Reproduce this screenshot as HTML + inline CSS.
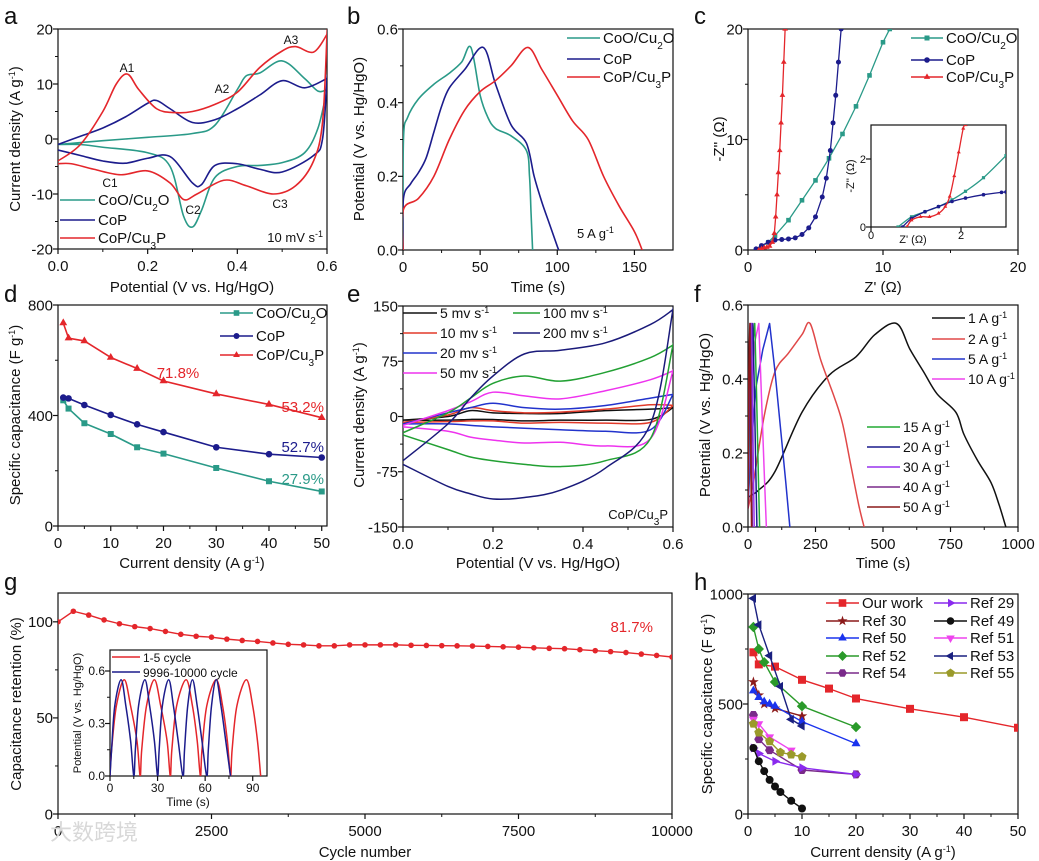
<!DOCTYPE html>
<html><head><meta charset="utf-8"><style>
html,body{margin:0;padding:0;background:#fff}
svg{display:block;font-family:"Liberation Sans","Noto Sans CJK SC",sans-serif}
</style></head><body>
<svg id="fig" width="1039" height="861" viewBox="0 0 1039 861" xmlns="http://www.w3.org/2000/svg"></svg>
<script>
// ---------- data ----------
// panel a (CV @10 mV/s)
const aRedFx=[0,0.05,0.1,0.13,0.155,0.18,0.22,0.26,0.3,0.35,0.4,0.45,0.5,0.53,0.57,0.6];
const aRedFy=[-4,-1,5,10,11.8,9,5.5,4.8,5,6.3,8.5,13,16,16.8,15.8,19];
const aRedRx=[0.6,0.59,0.57,0.53,0.48,0.42,0.37,0.31,0.28,0.25,0.2,0.14,0.08,0.03,0];
const aRedRy=[19,3,-4,-8.5,-10,-8.5,-7.5,-10,-11,-8,-5.8,-6.5,-5.5,-4.5,-4.5];
const aBluFx=[0,0.05,0.1,0.15,0.2,0.22,0.25,0.3,0.35,0.4,0.45,0.5,0.55,0.6];
const aBluFy=[-1,0.5,2,4,6.5,7,5.5,3,3.5,5.5,8,10.6,9.3,11];
const aBluRx=[0.6,0.59,0.57,0.5,0.45,0.4,0.35,0.32,0.3,0.25,0.2,0.15,0.1,0.05,0];
const aBluRy=[11,0,-3,-6,-5.5,-4.5,-4.8,-8.3,-8,-3.2,-3.5,-4.4,-4,-3,-2];
const aTeaFx=[0,0.1,0.2,0.3,0.35,0.4,0.42,0.45,0.5,0.55,0.58,0.6];
const aTeaFy=[-1,-0.3,0.3,1,2.5,9,11.5,12,14.2,11,8.7,9];
const aTeaRx=[0.6,0.58,0.55,0.5,0.45,0.4,0.35,0.32,0.3,0.28,0.25,0.2,0.1,0.05,0];
const aTeaRy=[9,2,-2.5,-4.3,-4.8,-5,-7,-13,-16,-14,-5,-2.5,-1.5,-1,-1];
// panel b (GCD @5 A/g)
const bRedT=[0,0.3,10,20,30,40,50,60,70,81,90,100,110,120,130,140,150,155];
const bRedV=[0,0.11,0.14,0.2,0.3,0.38,0.43,0.46,0.5,0.55,0.49,0.42,0.35,0.3,0.2,0.12,0.05,0];
const bBluT=[0,0.3,5,10,15,20,25,30,40,52,60,70,80,85,90,95,100,101];
const bBluV=[0,0.14,0.18,0.21,0.25,0.32,0.39,0.44,0.49,0.55,0.45,0.34,0.29,0.2,0.13,0.07,0.01,0];
const bTeaT=[0,0.3,3,10,20,30,38,44,50,55,60,70,80,82,83,84];
const bTeaV=[0,0.3,0.36,0.41,0.45,0.48,0.51,0.55,0.42,0.36,0.33,0.31,0.27,0.2,0.1,0];
// panel c (Nyquist)
const cRedX=[0.8,1.0,1.2,1.4,1.6,1.8,1.95,2.05,2.15,2.25,2.35,2.45,2.55,2.65,2.75];
const cRedY=[0,0.1,0.2,0.25,0.35,0.7,1.5,3,5,7,9,11.5,14,17,20];
const cBluX=[0.6,1,1.5,2,2.5,3,3.5,4,4.5,5,5.5,5.8,6.1,6.3,6.5,6.7,6.9];
const cBluY=[0.1,0.4,0.7,0.9,0.95,1,1.1,1.4,2,3,4.8,6.5,9,11.5,14,17,20];
const cTeaX=[0.6,1,1.5,2,3,4,5,6,7,8,9,10,10.5];
const cTeaY=[0,0.3,0.7,1.3,2.7,4.5,6.3,8.3,10.5,13,15.8,18.8,20];
const ciRedX=[0.8,0.9,1.1,1.3,1.5,1.65,1.75,1.85,1.95,2.05,2.1];
const ciRedY=[0,0.2,0.3,0.3,0.4,0.6,0.9,1.5,2.2,2.9,3];
const ciBluX=[0.7,0.9,1.2,1.5,1.8,2.1,2.5,2.9,3];
const ciBluY=[0,0.25,0.45,0.6,0.75,0.85,0.95,1.02,1.03];
const ciTeaX=[0.6,0.9,1.2,1.5,1.8,2.1,2.5,3];
const ciTeaY=[0,0.3,0.45,0.6,0.8,1.05,1.45,2.1];
// panel d
const dCur=[1,2,5,10,15,20,30,40,50];
const dRed=[735,680,670,610,570,525,478,440,392];
const dBlu=[465,462,438,402,368,340,285,260,248];
const dTea=[455,425,372,333,285,262,210,162,125];
// panel e (CV at scan rates)
const eV=[0,0.1,0.15,0.2,0.27,0.35,0.45,0.55,0.6];
const e5F=[-5,0,8,5,4,4,8,10,12],   e5R=[-5,-5,-4,-4,-6,-5,-5,-4,12];
const e10F=[-8,2,12,8,5,6,10,16,15], e10R=[-8,-7,-6,-6,-9,-8,-9,-8,15];
const e20F=[-10,5,12,18,12,10,15,25,30], e20R=[-10,-10,-12,-14,-16,-18,-20,-18,30];
const e50F=[-12,8,20,33,28,24,35,50,62], e50R=[-14,-20,-28,-32,-36,-35,-40,-30,62];
const e100F=[-22,5,25,45,55,48,60,80,97], e100R=[-25,-45,-55,-60,-65,-68,-60,-30,97];
const e200F=[-60,-10,25,55,85,90,100,125,145], e200R=[-65,-95,-105,-112,-110,-100,-70,-10,145];
// panel f (GCD at rates)
const f1T=[0,40,100,200,300,400,470,550,600,650,700,770,800,850,900,930,955];
const f1V=[0.08,0.1,0.15,0.31,0.41,0.46,0.52,0.55,0.48,0.42,0.36,0.31,0.25,0.18,0.12,0.06,0];
const f2T=[0,20,60,100,150,200,230,270,320,350,380,410,430];
const f2V=[0.05,0.12,0.3,0.42,0.47,0.52,0.55,0.45,0.35,0.28,0.17,0.06,0];
const f5T=[0,10,30,55,80,100,120,140,155];
const f5V=[0.05,0.2,0.38,0.48,0.55,0.42,0.27,0.12,0];
const f10T=[0,10,25,40,50,60,68];
const f10V=[0.05,0.3,0.45,0.55,0.4,0.2,0];
const f15T=[0,8,18,25,32,38,43];
const f20T=[0,6,13,18,24,29,33];
const f30T=[0,4,9,13,17,20,23];
const f40T=[0,3,6,9,12,14,16];
const f50T=[0,2,5,7,9,11,13];
const fFastV=[0.05,0.35,0.5,0.55,0.35,0.15,0];
// panel g
const gCycles=[0,250,500,750,1000,1250,1500,1750,2000,2250,2500,2750,3000,3250,3500,3750,4000,4250,4500,4750,5000,5250,5500,5750,6000,6250,6500,6750,7000,7250,7500,7750,8000,8250,8500,8750,9000,9250,9500,9750,10000];
const gRet=[100,105.5,103.5,101,99,97.5,96.5,95,93.5,92.5,92,91,90.3,89.8,89,88.3,88,87.5,87.5,88,88,88,88,87.8,87.7,87.6,87.5,87.4,87.2,87,86.8,86.5,86.2,86,85.5,85,84.5,84,83.2,82.5,81.7];
const giRedT=[0,1,4,9,13,17,19,20,23,28,32,36,38,39,42,48,52,55,57,58,61,67,71,74,76,77,80,86,90,93,95];
const giBluT=[0,1,3,7,10,13,15,16,18,22,25,28,30,31,33,37,40,43,46,47,49,52,55,58,61,62,64,67,70,73,76];
const giV=[0,0.15,0.4,0.55,0.4,0.2,0,0.15,0.4,0.55,0.4,0.2,0,0.15,0.4,0.55,0.4,0.2,0,0.15,0.4,0.55,0.4,0.2,0,0.15,0.4,0.55,0.4,0.2,0];
// panel h
const hOurX=[1,2,5,10,15,20,30,40,50], hOurY=[735,680,670,610,570,525,478,440,392];
const h30X=[1,2,3,5,10], h30Y=[600,540,500,480,445];
const h50X=[1,2,3,4,5,10,20], h50Y=[560,530,510,500,490,420,320];
const h52X=[1,2,3,5,10,20], h52Y=[850,750,690,600,490,395];
const h54X=[1,2,4,10,20], h54Y=[450,340,290,200,180];
const h29X=[1,2,5,10,20], h29Y=[300,275,240,210,180];
const h49X=[1,2,3,4,5,6,8,10], h49Y=[300,240,195,155,125,100,60,25];
const h51X=[1,2,4,8], h51Y=[430,410,350,290];
const h53X=[1,2,4,6,8,10], h53Y=[980,860,720,580,430,400];
const h55X=[1,2,4,6,8,10], h55Y=[410,370,330,280,270,260];

// ---------- helpers ----------
const NS='http://www.w3.org/2000/svg';
const svg=document.getElementById('fig');
const defs=document.createElementNS(NS,'defs');svg.appendChild(defs);
function el(tag,attrs,name,parent){
  const e=document.createElementNS(NS,tag);
  for(const k in attrs)e.setAttribute(k,attrs[k]);
  
  
  (parent||svg).appendChild(e);return e;
}
function txt(x,y,html,name,o){
  o=o||{};
  const t=el('text',{x:x,y:y,'font-size':o.fs||15,fill:o.fill||'#111','text-anchor':o.anchor||'start'},name,o.parent);
  if(o.rot)t.setAttribute('transform','rotate(-90 '+x+' '+y+')');
  t.innerHTML=html;return t;
}
const SUP=s=>'<tspan baseline-shift="super" font-size="9">'+s+'</tspan>';
const SUB=s=>'<tspan baseline-shift="sub" font-size="10">'+s+'</tspan>';
let clipN=0;
function axes(name,L,R,T,B,xd,yd,xt,xl,yt,yl,o){
  o=o||{};const fs=o.fs||15;
  const sx=v=>L+(v-xd[0])/(xd[1]-xd[0])*(R-L);
  const sy=v=>B-(v-yd[0])/(yd[1]-yd[0])*(B-T);
  const g=el('g',{},name);
  const cid='clip'+(clipN++);
  const cp=el('clipPath',{id:cid},name+'-clip',defs);
  el('rect',{x:L,y:T,width:R-L,height:B-T},name+'-clip-rect',cp);
  if(o.bg)el('rect',{x:L,y:T,width:R-L,height:B-T,fill:'#fff'},name+'-bg',g);
  xt.forEach((v,i)=>{
    const x=sx(v);
    el('line',{x1:x,x2:x,y1:B,y2:B+5,stroke:'#111','stroke-width':1.2},name+'-x-tick',g);
    txt(x,B+(o.xoff||22),xl[i],name+'-x-tick-label',{fs:fs,anchor:'middle',parent:g});
    if(i<xt.length-1&&!o.nominor){const m=sx((v+xt[i+1])/2);el('line',{x1:m,x2:m,y1:B,y2:B+3,stroke:'#111','stroke-width':1},name+'-x-minor-tick',g);}
  });
  yt.forEach((v,i)=>{
    const y=sy(v);
    el('line',{x1:L-5,x2:L,y1:y,y2:y,stroke:'#111','stroke-width':1.2},name+'-y-tick',g);
    txt(L-5,y+fs*0.35,yl[i],name+'-y-tick-label',{fs:fs,anchor:'end',parent:g});
    if(i<yt.length-1&&!o.nominor){const m=sy((v+yt[i+1])/2);el('line',{x1:L-3,x2:L,y1:m,y2:m,stroke:'#111','stroke-width':1},name+'-y-minor-tick',g);}
  });
  el('rect',{x:L,y:T,width:R-L,height:B-T,fill:'none',stroke:'#111','stroke-width':1.2},name+'-frame',g);
  const plot=el('g',{'clip-path':'url(#'+cid+')'},name+'-plot-area',g);
  return {x:sx,y:sy,g:plot};
}
function smoothPath(P){
  if(P.length<3)return 'M'+P.map(p=>p.join(',')).join('L');
  let d='M'+P[0][0]+','+P[0][1];
  for(let i=0;i<P.length-1;i++){
    const p0=P[i-1]||P[i],p1=P[i],p2=P[i+1],p3=P[i+2]||P[i+1];
    const c1=[p1[0]+(p2[0]-p0[0])/6,p1[1]+(p2[1]-p0[1])/6];
    const c2=[p2[0]-(p3[0]-p1[0])/6,p2[1]-(p3[1]-p1[1])/6];
    d+='C'+c1.join(',')+' '+c2.join(',')+' '+p2.join(',');
  }
  return d;
}
function series(ax,xs,ys,color,name,o){
  o=o||{};
  const P=xs.map((v,i)=>[ax.x(v),ax.y(ys[i])]);
  const d=o.straight?'M'+P.map(p=>p.join(',')).join('L'):smoothPath(P);
  el('path',{d:d,fill:'none',stroke:color,'stroke-width':o.w||1.6,'stroke-linejoin':'round'},name,ax.g);
  if(o.marker)P.forEach(p=>marker(ax.g,o.marker,p[0],p[1],o.ms||4,color,name+'-marker'));
}
function marker(parent,type,x,y,s,c,name){
  let pts;
  if(type==='circle'){el('circle',{cx:x,cy:y,r:s,fill:c},name,parent);return;}
  if(type==='square'){el('rect',{x:x-s,y:y-s,width:2*s,height:2*s,fill:c},name,parent);return;}
  const poly=(n,rot,rad)=>{const a=[];for(let i=0;i<n;i++){const t=rot+i*2*Math.PI/n;a.push([x+rad*Math.cos(t),y+rad*Math.sin(t)]);}return a;};
  if(type==='up')pts=poly(3,-Math.PI/2,s*1.3);
  else if(type==='down')pts=poly(3,Math.PI/2,s*1.3);
  else if(type==='left')pts=poly(3,Math.PI,s*1.3);
  else if(type==='right')pts=poly(3,0,s*1.3);
  else if(type==='diamond')pts=poly(4,0,s*1.3);
  else if(type==='hex')pts=poly(6,0,s*1.15);
  else if(type==='pent')pts=poly(5,-Math.PI/2,s*1.2);
  else if(type==='star'){pts=[];for(let i=0;i<10;i++){const t=-Math.PI/2+i*Math.PI/5,r=i%2?s*0.55:s*1.4;pts.push([x+r*Math.cos(t),y+r*Math.sin(t)]);}}
  el('polygon',{points:pts.map(p=>p.join(',')).join(' '),fill:c},name,parent);
}
function legend(x1,x2,y,color,label,name,o){
  o=o||{};
  el('line',{x1:x1,x2:x2,y1:y,y2:y,stroke:color,'stroke-width':o.w||1.6},name+'-line');
  if(o.marker)marker(svg,o.marker,(x1+x2)/2,y,o.ms||3.5,color,name+'-marker');
  txt(x2+3,y+5,label,name+'-label',{fs:o.fs||15});
}
function loop(fx,fy,rx,ry){return [fx.concat(rx),fy.concat(ry)];}
function loopG(v,f,r){return [v.concat(v.slice().reverse()),f.concat(r.slice().reverse())];}

const RED='#e4262b',NAVY='#1c1c8c',TEAL='#2a9a88';

// ---------- panel a ----------
txt(4,24,'a','panel-a-letter',{fs:24});
let A=axes('panel-a-axes',58,327,29,249,[0,0.6],[-20,20],[0,0.2,0.4,0.6],['0.0','0.2','0.4','0.6'],[-20,-10,0,10,20],['-20','-10','0','10','20']);
let L;
L=loop(aTeaFx,aTeaFy,aTeaRx,aTeaRy);series(A,L[0],L[1],TEAL,'cv-coo-cu2o');
L=loop(aBluFx,aBluFy,aBluRx,aBluRy);series(A,L[0],L[1],NAVY,'cv-cop');
L=loop(aRedFx,aRedFy,aRedRx,aRedRy);series(A,L[0],L[1],RED,'cv-cop-cu3p');
txt(192,292,'Potential (V vs. Hg/HgO)','panel-a-x-title',{anchor:'middle'});
txt(20,139,'Current density (A g'+SUP('-1')+')','panel-a-y-title',{anchor:'middle',rot:1});
[['A1',127,72],['A2',222,93],['A3',291,44],['C1',110,187],['C2',193,214],['C3',280,208]].forEach(p=>txt(p[1],p[2],p[0],'peak-label-'+p[0].toLowerCase(),{fs:12,anchor:'middle'}));
legend(60,95,200,TEAL,'CoO/Cu'+SUB('2')+'O','panel-a-legend-coo');
legend(60,95,220,NAVY,'CoP','panel-a-legend-cop');
legend(60,95,238,RED,'CoP/Cu'+SUB('3')+'P','panel-a-legend-cop-cu3p');
txt(323,242,'10 mV s'+SUP('-1'),'scan-rate-note',{fs:13,anchor:'end'});

// ---------- panel b ----------
txt(347,24,'b','panel-b-letter',{fs:24});
let Bx=axes('panel-b-axes',403,673,29,250,[0,175],[0,0.6],[0,50,100,150],['0','50','100','150'],[0,0.2,0.4,0.6],['0.0','0.2','0.4','0.6']);
series(Bx,bTeaT,bTeaV,TEAL,'gcd-coo-cu2o');
series(Bx,bBluT,bBluV,NAVY,'gcd-cop');
series(Bx,bRedT,bRedV,RED,'gcd-cop-cu3p');
txt(538,292,'Time (s)','panel-b-x-title',{anchor:'middle'});
txt(364,139,'Potential (V vs. Hg/HgO)','panel-b-y-title',{anchor:'middle',rot:1});
legend(567,600,38,TEAL,'CoO/Cu'+SUB('2')+'O','panel-b-legend-coo');
legend(567,600,59,NAVY,'CoP','panel-b-legend-cop');
legend(567,600,77,RED,'CoP/Cu'+SUB('3')+'P','panel-b-legend-cop-cu3p');
txt(577,238,'5 A g'+SUP('-1'),'current-note',{fs:13});

// ---------- panel c ----------
txt(694,24,'c','panel-c-letter',{fs:24});
let C=axes('panel-c-axes',748,1018,29,250,[0,20],[0,20],[0,10,20],['0','10','20'],[0,10,20],['0','10','20']);
series(C,cTeaX,cTeaY,TEAL,'eis-coo-cu2o',{marker:'square',ms:2.3,straight:1,w:1.3});
series(C,cBluX,cBluY,NAVY,'eis-cop',{marker:'circle',ms:2.5,straight:1,w:1.3});
series(C,cRedX,cRedY,RED,'eis-cop-cu3p',{marker:'up',ms:2.5,straight:1,w:1.3});
txt(883,292,"Z' (Ω)",'panel-c-x-title',{anchor:'middle'});
txt(724,139,"-Z'' (Ω)",'panel-c-y-title',{anchor:'middle',rot:1});
legend(911,943,38,TEAL,'CoO/Cu'+SUB('2')+'O','panel-c-legend-coo',{marker:'square',ms:2.5});
legend(911,943,60,NAVY,'CoP','panel-c-legend-cop',{marker:'circle',ms:2.8});
legend(911,943,77,RED,'CoP/Cu'+SUB('3')+'P','panel-c-legend-cop-cu3p',{marker:'up',ms:2.8});
let CI=axes('panel-c-inset-axes',871,1006,125,227,[0,3],[0,3],[0,2],['0','2'],[0,2],['0','2'],{fs:11,xoff:12,nominor:1,bg:1});
series(CI,ciTeaX,ciTeaY,TEAL,'inset-eis-coo-cu2o',{marker:'square',ms:1.6,w:1.3});
series(CI,ciBluX,ciBluY,NAVY,'inset-eis-cop',{marker:'circle',ms:1.8,w:1.3});
series(CI,ciRedX,ciRedY,RED,'inset-eis-cop-cu3p',{marker:'up',ms:1.8,w:1.3});
txt(913,243,"Z' (Ω)",'inset-x-title',{fs:11,anchor:'middle'});
txt(854,176,"-Z'' (Ω)",'inset-y-title',{fs:11,anchor:'middle',rot:1});

// ---------- panel d ----------
txt(4,302,'d','panel-d-letter',{fs:24});
let D=axes('panel-d-axes',58,327,305,526,[0,51],[0,800],[0,10,20,30,40,50],['0','10','20','30','40','50'],[0,400,800],['0','400','800']);
series(D,dCur,dTea,TEAL,'cap-coo-cu2o',{marker:'square',ms:3,straight:1});
series(D,dCur,dBlu,NAVY,'cap-cop',{marker:'circle',ms:3.3,straight:1});
series(D,dCur,dRed,RED,'cap-cop-cu3p',{marker:'up',ms:3.5,straight:1});
txt(192,568,'Current density (A g'+SUP('-1')+')','panel-d-x-title',{anchor:'middle'});
txt(20,415,'Specific capacitance (F g'+SUP('-1')+')','panel-d-y-title',{anchor:'middle',rot:1});
legend(220,253,313,TEAL,'CoO/Cu'+SUB('2')+'O','panel-d-legend-coo',{marker:'square',ms:2.8});
legend(220,253,336,NAVY,'CoP','panel-d-legend-cop',{marker:'circle',ms:3});
legend(220,253,355,RED,'CoP/Cu'+SUB('3')+'P','panel-d-legend-cop-cu3p',{marker:'up',ms:3});
txt(178,378,'71.8%','retention-718',{fill:RED,anchor:'middle'});
txt(324,412,'53.2%','retention-532',{fill:RED,anchor:'end'});
txt(324,452,'52.7%','retention-527',{fill:NAVY,anchor:'end'});
txt(324,484,'27.9%','retention-279',{fill:TEAL,anchor:'end'});

// ---------- panel e ----------
txt(347,302,'e','panel-e-letter',{fs:24});
let E=axes('panel-e-axes',403,673,306,527,[0,0.6],[-150,150],[0,0.2,0.4,0.6],['0.0','0.2','0.4','0.6'],[-150,-75,0,75,150],['-150','-75','0','75','150']);
const eCols=['#111','#e23a2a','#2233cc','#ee33ee','#22a033','#1a1a7a'];
const eSets=[[e5F,e5R,'5'],[e10F,e10R,'10'],[e20F,e20R,'20'],[e50F,e50R,'50'],[e100F,e100R,'100'],[e200F,e200R,'200']];
eSets.forEach((s,i)=>{const lp=loopG(eV,s[0],s[1]);series(E,lp[0],lp[1],eCols[i],'cv-'+s[2]+'-mvs',{w:1.5});});
txt(538,568,'Potential (V vs. Hg/HgO)','panel-e-x-title',{anchor:'middle'});
txt(364,415,'Current density (A g'+SUP('-1')+')','panel-e-y-title',{anchor:'middle',rot:1});
legend(403,437,313,eCols[0],'5 mv s'+SUP('-1'),'panel-e-legend-5',{fs:14});
legend(403,437,333,eCols[1],'10 mv s'+SUP('-1'),'panel-e-legend-10',{fs:14});
legend(403,437,353,eCols[2],'20 mv s'+SUP('-1'),'panel-e-legend-20',{fs:14});
legend(403,437,373,eCols[3],'50 mv s'+SUP('-1'),'panel-e-legend-50',{fs:14});
legend(513,540,313,eCols[4],'100 mv s'+SUP('-1'),'panel-e-legend-100',{fs:14});
legend(513,540,333,eCols[5],'200 mv s'+SUP('-1'),'panel-e-legend-200',{fs:14});
txt(668,519,'CoP/Cu'+SUB('3')+'P','panel-e-sample-note',{fs:13,anchor:'end'});

// ---------- panel f ----------
txt(694,302,'f','panel-f-letter',{fs:24});
let F=axes('panel-f-axes',748,1018,305,527,[0,1000],[0,0.6],[0,250,500,750,1000],['0','250','500','750','1000'],[0,0.2,0.4,0.6],['0.0','0.2','0.4','0.6']);
const fCols={f1:'#111',f2:'#e04848',f5:'#2233cc',f10:'#ee44ee',f15:'#22aa33',f20:'#1a1a8c',f30:'#9933ee',f40:'#7a2a8a',f50:'#8b1a1a'};
series(F,f1T,f1V,fCols.f1,'gcd-1-ag',{w:1.5});
series(F,f2T,f2V,fCols.f2,'gcd-2-ag',{w:1.5});
series(F,f5T,f5V,fCols.f5,'gcd-5-ag',{w:1.5,straight:1});
series(F,f10T,fFastV,fCols.f10,'gcd-10-ag',{w:1.5,straight:1});
series(F,f15T,fFastV,fCols.f15,'gcd-15-ag',{w:1.5,straight:1});
series(F,f20T,fFastV,fCols.f20,'gcd-20-ag',{w:1.5,straight:1});
series(F,f30T,fFastV,fCols.f30,'gcd-30-ag',{w:1.5,straight:1});
series(F,f40T,fFastV,fCols.f40,'gcd-40-ag',{w:1.5,straight:1});
series(F,f50T,fFastV,fCols.f50,'gcd-50-ag',{w:1.5,straight:1});
txt(883,568,'Time (s)','panel-f-x-title',{anchor:'middle'});
txt(710,415,'Potential (V vs. Hg/HgO)','panel-f-y-title',{anchor:'middle',rot:1});
[['1',fCols.f1,318],['2',fCols.f2,339],['5',fCols.f5,359],['10',fCols.f10,379]].forEach(r=>legend(932,965,r[2],r[1],r[0]+' A g'+SUP('-1'),'panel-f-legend-'+r[0],{fs:14}));
[['15',fCols.f15,427],['20',fCols.f20,447],['30',fCols.f30,467],['40',fCols.f40,487],['50',fCols.f50,507]].forEach(r=>legend(867,900,r[2],r[1],r[0]+' A g'+SUP('-1'),'panel-f-legend-'+r[0],{fs:14}));

// ---------- panel g ----------
txt(4,590,'g','panel-g-letter',{fs:24});
let G=axes('panel-g-axes',58,672,593,814,[0,10000],[0,115],[0,2500,5000,7500,10000],['0','2500','5000','7500','10000'],[0,50,100],['0','50','100']);
series(G,gCycles,gRet,RED,'retention-curve',{marker:'circle',ms:2.8,straight:1,w:1.4});
txt(365,857,'Cycle number','panel-g-x-title',{anchor:'middle'});
txt(21,704,'Capacitance retention (%)','panel-g-y-title',{anchor:'middle',rot:1});
txt(653,632,'81.7%','final-retention',{fill:RED,anchor:'end'});
let GI=axes('panel-g-inset-axes',110,267,650,776,[0,99],[0,0.72],[0,30,60,90],['0','30','60','90'],[0,0.3,0.6],['0.0','0.3','0.6'],{fs:12,xoff:16,bg:1});
series(GI,giRedT,giV,RED,'inset-gcd-1-5-cycle',{w:1.5});
series(GI,giBluT,giV,NAVY,'inset-gcd-9996-10000-cycle',{w:1.5});
legend(112,140,657,RED,'1-5 cycle','inset-legend-first',{fs:12});
legend(112,140,672,NAVY,'9996-10000 cycle','inset-legend-last',{fs:12});
txt(188,806,'Time (s)','inset-g-x-title',{fs:12,anchor:'middle'});
txt(81,713,'Potential (V vs. Hg/HgO)','inset-g-y-title',{fs:11,anchor:'middle',rot:1});
txt(50,840,'大数跨境','watermark',{fs:22,fill:'#d8d8d8'});

// ---------- panel h ----------
txt(694,590,'h','panel-h-letter',{fs:24});
let H=axes('panel-h-axes',748,1018,594,814,[0,50],[0,1000],[0,10,20,30,40,50],['0','10','20','30','40','50'],[0,500,1000],['0','500','1000']);
const hSets=[
 [hOurX,hOurY,'#e4262b','square','Our work','our-work',836,603],
 [h30X,h30Y,'#8b1a1a','star','Ref 30','ref-30',836,621],
 [h50X,h50Y,'#1a33ee','up','Ref 50','ref-50',836,638],
 [h52X,h52Y,'#2a9a2a','diamond','Ref 52','ref-52',836,656],
 [h54X,h54Y,'#7a2a8a','hex','Ref 54','ref-54',836,673],
 [h29X,h29Y,'#8a2aee','right','Ref 29','ref-29',944,603],
 [h49X,h49Y,'#111','circle','Ref 49','ref-49',944,621],
 [h51X,h51Y,'#ee44ee','down','Ref 51','ref-51',944,638],
 [h53X,h53Y,'#1a2080','left','Ref 53','ref-53',944,656],
 [h55X,h55Y,'#9a9a2a','pent','Ref 55','ref-55',944,673]];
hSets.forEach(s=>series(H,s[0],s[1],s[2],'comparison-'+s[5],{marker:s[3],ms:4,straight:1,w:1.4}));
hSets.forEach(s=>legend(s[6]-10,s[6]+23,s[7],s[2],s[4],'panel-h-legend-'+s[5],{marker:s[3],ms:3.8}));
txt(883,857,'Current density (A g'+SUP('-1')+')','panel-h-x-title',{anchor:'middle'});
txt(712,704,'Specific capacitance (F g'+SUP('-1')+')','panel-h-y-title',{anchor:'middle',rot:1});
</script>
</body></html>
